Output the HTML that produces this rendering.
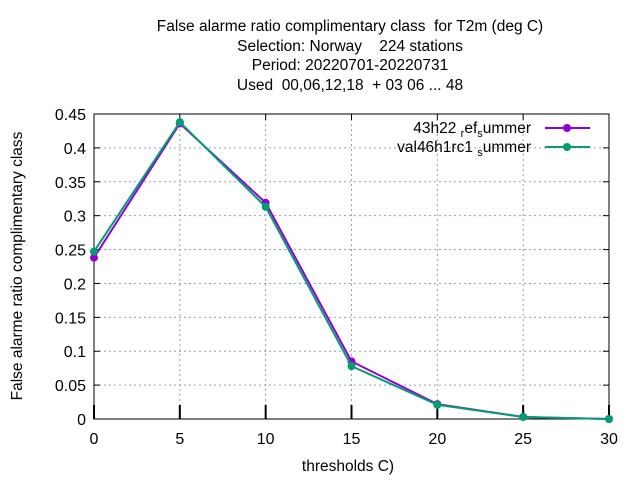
<!DOCTYPE html>
<html><head><meta charset="utf-8"><style>
body{margin:0;background:#fff;}
svg{display:block;font-family:"Liberation Sans",sans-serif;}
text{white-space:pre;}
</style></head><body>
<svg id="chart" width="640" height="480">
<g font-size="15.5" text-anchor="middle" fill="#000">
<text x="350" y="31" xml:space="preserve">False alarme ratio complimentary class  for T2m (deg C)</text>
<text x="350" y="51" xml:space="preserve">Selection: Norway    224 stations</text>
<text x="350" y="70" xml:space="preserve">Period: 20220701-20220731</text>
<text x="350" y="90" xml:space="preserve">Used  00,06,12,18  + 03 06 ... 48</text>
</g>
<g id="grid"></g>
<g id="axes"></g>
<text x="348" y="471" font-size="15.5" text-anchor="middle">thresholds C)</text>
<text transform="translate(22,266) rotate(-90)" font-size="15.5" text-anchor="middle">False alarme ratio complimentary class</text>
<g id="series"></g>
<g id="legend" font-size="15.5" text-anchor="end"></g>
</svg>
<script>
const categories=[0,5,10,15,20,25,30];
const seriesNames=["43h22 _ref_s ummer","val46h1rc1 _s ummer"];
const refValues=[0.238,0.436,0.319,0.085,0.022,0.003,0.0];
const valValues=[0.247,0.438,0.313,0.078,0.021,0.003,0.0];
const yTicks=[0,0.05,0.1,0.15,0.2,0.25,0.3,0.35,0.4,0.45];
const yTickLabels=["0","0.05","0.1","0.15","0.2","0.25","0.3","0.35","0.4","0.45"];
const colors=["#9400d3","#009e73"];
const L=94,R=609,T=114,B=419;
const xs=v=>L+(v-0)/(30-0)*(R-L);
const ys=v=>B-(v/0.45)*(B-T);
const NS="http://www.w3.org/2000/svg";
function mk(tag,attrs,parent){const e=document.createElementNS(NS,tag);for(const k in attrs)e.setAttribute(k,attrs[k]);parent.appendChild(e);return e;}
const grid=document.getElementById('grid'),axes=document.getElementById('axes');
yTicks.forEach((t,i)=>{
 const y=ys(t);
 if(t>0&&t<0.45){const g=mk('line',{x1:L,x2:R,y1:y,y2:y,stroke:'#a0a0a0','stroke-dasharray':'2,3','stroke-width':1},grid);
 
 }
 const tk=mk('line',{x1:L,x2:L+6,y1:y,y2:y,stroke:'#000'},axes);
 
 
 const tk2=mk('line',{x1:R-6,x2:R,y1:y,y2:y,stroke:'#000'},axes);
 
 
 const tx=mk('text',{x:L-8,y:y+6,'font-size':16,'text-anchor':'end'},axes);
 tx.textContent=yTickLabels[i];
 
 
});
categories.forEach(c=>{
 const x=xs(c);
 if(c>0&&c<30){const g=mk('line',{x1:x,x2:x,y1:T,y2:B,stroke:'#a0a0a0','stroke-dasharray':'2,3'},grid);
 
 }
 const tk=mk('line',{x1:x,x2:x,y1:B-14,y2:B,stroke:'#000','stroke-width':2},axes);
 
 
 const tk2=mk('line',{x1:x,x2:x,y1:T,y2:T+6,stroke:'#000'},axes);
 
 
 const tx=mk('text',{x:x,y:B+25,'font-size':16,'text-anchor':'middle'},axes);
 tx.textContent=String(c);
 
 
});
const frame=mk('rect',{x:L,y:T,width:R-L,height:B-T,fill:'none',stroke:'#000'},axes);


const ser=document.getElementById('series');
[refValues,valValues].forEach((vals,si)=>{
 const pts=vals.map((v,i)=>xs(categories[i])+','+ys(v)).join(' ');
 const pl=mk('polyline',{points:pts,fill:'none',stroke:colors[si],'stroke-width':2},ser);
 
 
 vals.forEach((v,i)=>{
  const m=mk('circle',{cx:xs(categories[i]),cy:ys(v),r:4,fill:colors[si]},ser);
  
  
 });
});
const leg=document.getElementById('legend');
[0,1].forEach(i=>{
 const y=128+i*19;
 const t=mk('text',{x:531,y:y+5},leg);
 
 
 if(i===0){t.innerHTML='43h22 <tspan font-size="11" dy="4">r</tspan><tspan dy="-4">ef</tspan><tspan font-size="11" dy="4">s</tspan><tspan dy="-4">ummer</tspan>';}
 else{t.innerHTML='val46h1rc1 <tspan font-size="11" dy="4">s</tspan><tspan dy="-4">ummer</tspan>';}
 const ln=mk('line',{x1:545,x2:590,y1:y,y2:y,stroke:colors[i],'stroke-width':2},leg);
 
 
 const m=mk('circle',{cx:567,cy:y,r:4,fill:colors[i]},leg);
 
 
});
</script>
</body></html>
